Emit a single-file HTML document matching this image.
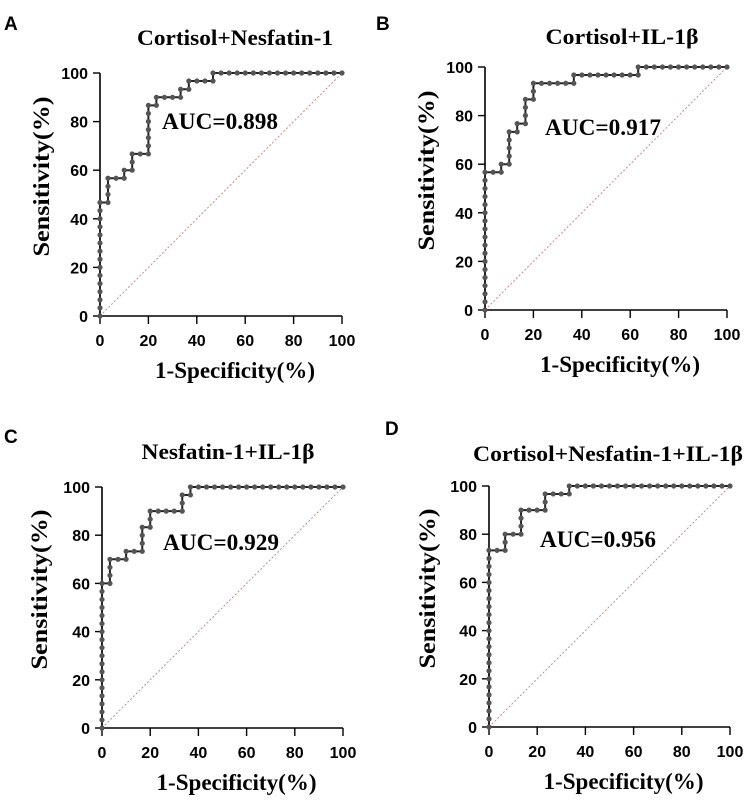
<!DOCTYPE html>
<html><head><meta charset="utf-8"><style>
html,body{margin:0;padding:0;background:#fff;}
svg{display:block;}
.ser{font-family:"Liberation Serif",serif;font-weight:bold;fill:#000;}
.san{font-family:"Liberation Sans",sans-serif;fill:#000;}
</style></head><body>
<svg id="fig" width="750" height="800" viewBox="0 0 750 800"></svg>
<script>
const ticks = [0,20,40,60,80,100];
const tickLabels = ["0","20","40","60","80","100"];
const titles = ["Cortisol+Nesfatin-1","Cortisol+IL-1β","Nesfatin-1+IL-1β","Cortisol+Nesfatin-1+IL-1β"];
const letters = ["A","B","C","D"];
const aucLabels = ["AUC=0.898","AUC=0.917","AUC=0.929","AUC=0.956"];
const fprA = [0,0,3.3,3.3,10,10,13.3,13.3,20,20,23.3,23.3,33.3,33.3,36.7,36.7,46.7,46.7,100];
const tprA = [0,46.7,46.7,56.7,56.7,60,60,66.7,66.7,86.7,86.7,90,90,93.3,93.3,96.7,96.7,100,100];
const fprB = [0,0,6.7,6.7,10,10,13.3,13.3,16.7,16.7,20,20,36.7,36.7,63.3,63.3,100];
const tprB = [0,56.7,56.7,60,60,73.3,73.3,76.7,76.7,86.7,86.7,93.3,93.3,96.7,96.7,100,100];
const fprC = [0,0,3.3,3.3,10,10,16.7,16.7,20,20,33.3,33.3,36.7,36.7,100];
const tprC = [0,60,60,70,70,73.3,73.3,83.3,83.3,90,90,96.7,96.7,100,100];
const fprD = [0,0,6.7,6.7,13.3,13.3,23.3,23.3,33.3,33.3,100];
const tprD = [0,73.3,73.3,80,80,90,90,96.7,96.7,100,100];
const seriesX=[fprA,fprB,fprC,fprD], seriesY=[tprA,tprB,tprC,tprD];

const layout=[
 {x0:100,x1:342,y0:316,y1:73,lx:4,ly:30,tx:235,ty:45,tw:196,ax:162,ay:129,yt:42},
 {x0:485,x1:727,y0:310,y1:67,lx:376,ly:30,tx:622,ty:44,tw:153,ax:545,ay:135,yt:427},
 {x0:102,x1:343,y0:728,y1:487,lx:4,ly:443,tx:228,ty:459,tw:173,ax:163,ay:550,yt:40},
 {x0:489,x1:730,y0:727,y1:486,lx:385,ly:435,tx:608,ty:461,tw:270,ax:540,ay:547,yt:428}
];
const NS="http://www.w3.org/2000/svg";
const svg=document.getElementById('fig');
function mk(tag,attrs,parent,text){const e=document.createElementNS(NS,tag);for(const k in attrs)e.setAttribute(k,attrs[k]);if(text!==undefined)e.textContent=text;(parent||svg).appendChild(e);return e;}
layout.forEach((L,i)=>{
  const g=mk('g',{});
  
  
  const sx=v=>L.x0+(L.x1-L.x0)*v/100, sy=v=>L.y0+(L.y1-L.y0)*v/100;
  const lt=mk('text',{x:L.lx,y:L.ly,class:'san','font-size':19,'font-weight':'bold'},g,letters[i]);
  
  
  const tt=mk('text',{x:L.tx,y:L.ty,class:'ser','font-size':22,'text-anchor':'middle',textLength:L.tw,lengthAdjust:'spacingAndGlyphs'},g,titles[i]);
  
  
  const ax=mk('path',{d:`M${L.x0},${L.y1}V${L.y0}H${L.x1}`,stroke:'#000','stroke-width':1.6,fill:'none'},g);
  
  
  ticks.forEach((t,k)=>{
    mk('line',{x1:L.x0-7,x2:L.x0,y1:sy(t),y2:sy(t),stroke:'#000','stroke-width':1.4},g);
    mk('line',{x1:sx(t),x2:sx(t),y1:L.y0,y2:L.y0+8,stroke:'#000','stroke-width':1.4},g);
    const yl=mk('text',{x:L.x0-12,y:sy(t)+6,class:'san','font-size':16,'font-weight':'bold','text-anchor':'end'},g,tickLabels[k]);
    
    
    const xl=mk('text',{x:sx(t),y:L.y0+30,class:'san','font-size':16,'font-weight':'bold','text-anchor':'middle'},g,tickLabels[k]);
    
    
  });
  const cy=(L.y0+L.y1)/2-18;
  const yt=mk('text',{x:L.yt,y:cy,class:'ser','font-size':23,'text-anchor':'middle',transform:`rotate(-90 ${L.yt} ${cy})`,dy:7,textLength:160,lengthAdjust:'spacingAndGlyphs'},g,'Sensitivity(%)');
  
  
  const xt=mk('text',{x:(L.x0+L.x1)/2+14,y:L.y0+62,class:'ser','font-size':23,'text-anchor':'middle',textLength:160,lengthAdjust:'spacingAndGlyphs'},g,'1-Specificity(%)');
  
  
  const ref=mk('line',{x1:sx(0),y1:sy(0),x2:sx(100),y2:sy(100),stroke:'#c98a8a','stroke-width':1,'stroke-dasharray':'2,2'},g);
  
  
  const X=seriesX[i],Y=seriesY[i];
  let d='';X.forEach((v,k)=>{d+=(k?'L':'M')+sx(v)+','+sy(Y[k]);});
  const curve=mk('path',{d,stroke:'#222','stroke-width':2,fill:'none'},g);
  
  
  for(let k=0;k<X.length-1;k++){
    const a=X[k],b=X[k+1],c=Y[k],e=Y[k+1];
    const len=Math.abs(b-a)+Math.abs(e-c);
    const n=Math.round(len/(100/30));
    for(let j=0;j<n;j++){
      const f=j/Math.max(n,1);
      const p=mk('circle',{cx:sx(a+(b-a)*f),cy:sy(c+(e-c)*f),r:2.6,fill:'#555'},g);
      
      
    }
  }
  const last=mk('circle',{cx:sx(100),cy:sy(100),r:2.6,fill:'#555'},g);
  
  
  const at=mk('text',{x:L.ax,y:L.ay,class:'ser','font-size':23,textLength:116,lengthAdjust:'spacingAndGlyphs'},g,aucLabels[i]);
  
  
});
</script>
</body></html>
